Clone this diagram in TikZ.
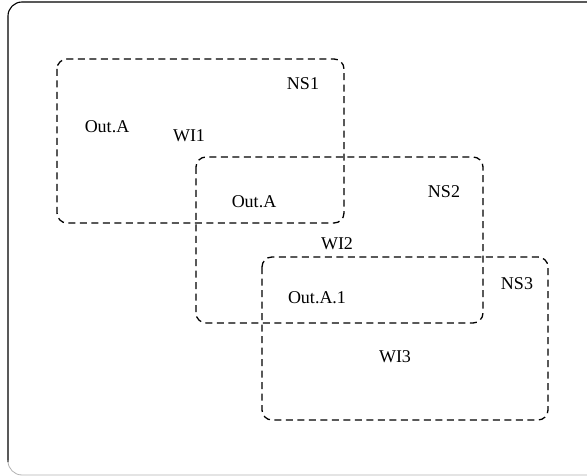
\documentclass[tikz,border=0pt]{standalone}
\usepackage{fontspec}
\setmainfont{Liberation Serif}
\begin{document}
\begin{tikzpicture}[x=1pt,y=-1pt,
  nsbox/.style={draw=black, line width=1.3pt, dash pattern=on 7pt off 4.5pt, rounded corners=10pt},
  lbl/.style={font=\fontsize{18}{21}\selectfont, inner sep=0pt}]
  \useasboundingbox (0,0) rectangle (587,476);
  % outer frame, running off the right side
  \begin{scope}
    \clip (0,0) rectangle (587,476);
    \draw[line width=1.1pt, rounded corners=14pt] (600,2) -- (8,2) -- (8,462);
    \draw[black!30, line width=0.8pt, rounded corners=14pt] (8,460) -- (8,475) -- (600,475);
  \end{scope}
  % name-space boxes
  \draw[nsbox] (57,59) rectangle (344,223);
  \draw[nsbox] (196,157) rectangle (483,323);
  \draw[nsbox] (262,257) rectangle (548,420);
  % labels
  \node[lbl] (ns1) at (303,84) {NS1};
  \node[lbl] (outa1) at (107,127) {Out.A};
  \node[lbl] (wi1) at (189,136) {WI1};
  \node[lbl] (outa2) at (254,202) {Out.A};
  \node[lbl] (ns2) at (444,192) {NS2};
  \node[lbl] (wi2) at (337,244) {WI2};
  \node[lbl] (outa3) at (317,298) {Out.A.1};
  \node[lbl] (ns3) at (517,284) {NS3};
  \node[lbl] (wi3) at (395,357) {WI3};
\end{tikzpicture}
\end{document}
